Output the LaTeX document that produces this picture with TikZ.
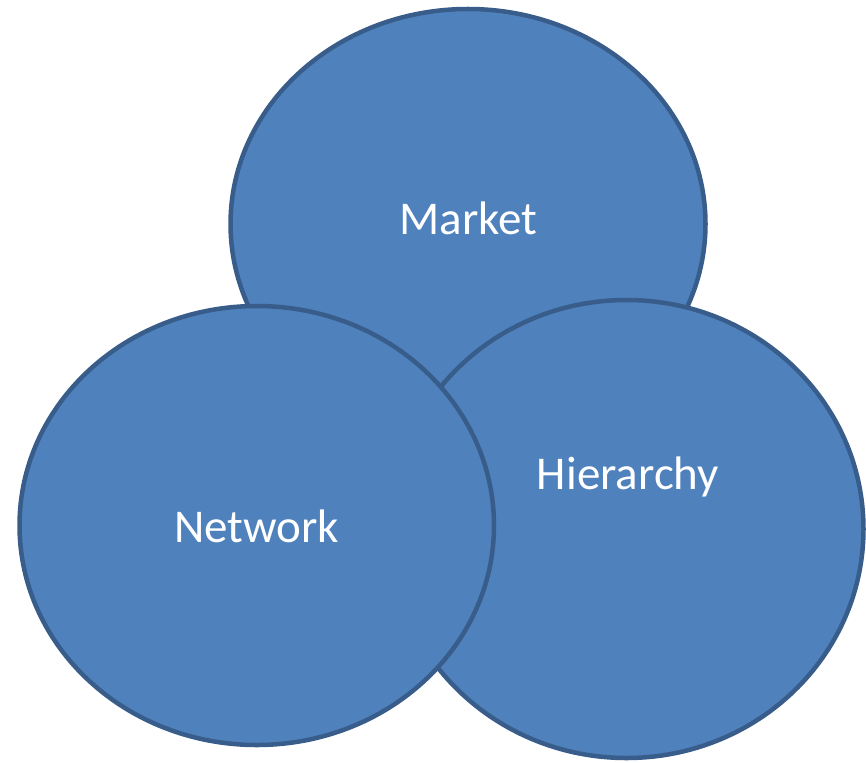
\documentclass[tikz,border=0pt]{standalone}
\usepackage{fontspec}
\setmainfont{Carlito}
\usetikzlibrary{shapes.geometric}
\definecolor{ovalfill}{HTML}{4F81BD}
\definecolor{ovalline}{HTML}{385D8A}
\tikzset{
  oval/.style={ellipse, draw=ovalline, fill=ovalfill, line width=4.5pt, inner sep=0pt},
  caption/.style={text=white, font=\fontsize{47}{56}\selectfont, anchor=base, inner sep=0pt}
}
\begin{document}
\begin{tikzpicture}[x=1pt, y=-1pt]
  \useasboundingbox (0,0) rectangle (866,762);
  % three overlapping ovals, drawn back to front
  \node[oval, minimum width=475pt, minimum height=430pt] (market) at (468,224) {};
  \node[oval, minimum width=474pt, minimum height=458pt] (hierarchy) at (626.5,529) {};
  \node[oval, minimum width=474.5pt, minimum height=439pt] (network) at (256.75,525.5) {};
  % labels
  \node[caption] (marketlabel) at (468.5,234) {Market};
  \node[caption] (hierarchylabel) at (628,489) {Hierarchy};
  \node[caption] (networklabel) at (256.5,542) {Network};
\end{tikzpicture}
\end{document}
